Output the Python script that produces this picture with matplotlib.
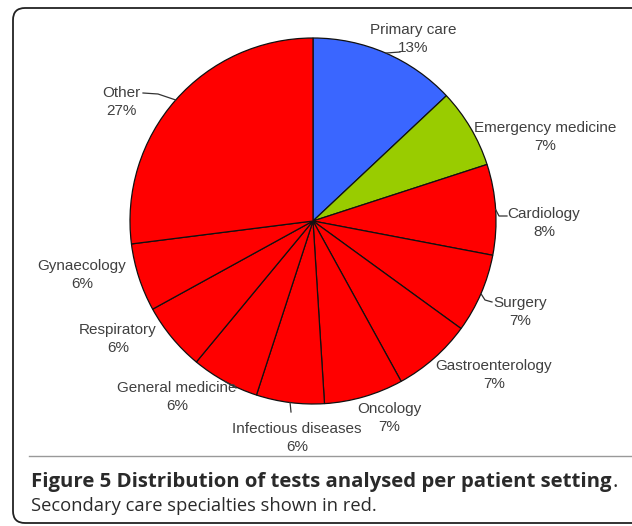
import numpy as np
import matplotlib
matplotlib.use("Agg")
import matplotlib.pyplot as plt
from matplotlib.patches import FancyBboxPatch

# ---- data ----
categories = ["Primary care", "Emergency medicine", "Cardiology", "Surgery",
              "Gastroenterology", "Oncology", "Infectious diseases",
              "General medicine", "Respiratory", "Gynaecology", "Other"]
values = [13, 7, 8, 7, 7, 7, 6, 6, 6, 6, 27]
colors = ["#3a66ff", "#99cc00"] + ["#ff0000"] * 9
caption_title = "Figure 5 Distribution of tests analysed per patient setting"
caption_text = "Secondary care specialties shown in red."

# ---- layout (pixel units, y from top) ----
W, H = 632, 526
CX, CY, R = 313, 221, 183
label_pos = {
    "Primary care": (413, 39),
    "Emergency medicine": (545, 137),
    "Cardiology": (544, 223),
    "Surgery": (520, 312),
    "Gastroenterology": (494, 375),
    "Oncology": (389, 418),
    "Infectious diseases": (297, 438),
    "General medicine": (177, 397),
    "Respiratory": (118, 339),
    "Gynaecology": (82, 275),
    "Other": (121, 102),
}
# leader path points after the rim point
leader_tail = {
    "Primary care": [(400, 52)],
    "Cardiology": [(499, 216), (507, 216)],
    "Surgery": [(485, 300), (492, 302)],
    "Infectious diseases": [(291, 412)],
    "General medicine": [(236, 388)],
    "Other": [(158, 94), (143, 93)],
}

fig = plt.figure(figsize=(W / 100, H / 100), dpi=100)
bg = fig.add_axes([0, 0, 1, 1])
bg.set_xlim(0, W)
bg.set_ylim(H, 0)
bg.axis("off")

box = FancyBboxPatch((13, 8), 640, 515, boxstyle="round,pad=0,rounding_size=12",
                     facecolor="white", edgecolor="#222222", linewidth=1.3)
bg.add_patch(box)
bg.plot([29, 632], [456, 456], color="#999999", linewidth=1.0)

t1 = bg.text(31, 482, caption_title, fontsize=14.7, fontweight="bold",
             family="Open Sans", color="#2a2a2a", va="center", ha="left")
bg.text(31, 506, caption_text, fontsize=13.2, family="Open Sans",
        color="#2a2a2a", va="center", ha="left")
renderer = fig.canvas.get_renderer()
ext = t1.get_window_extent(renderer=renderer)
xend = bg.transData.inverted().transform((ext.x1, ext.y0))[0]
bg.text(xend + 1, 482, ".", fontsize=14.7, family="Open Sans",
        color="#2a2a2a", va="center", ha="left")

ax = fig.add_axes([(CX - R) / W, (H - CY - R) / H, 2 * R / W, 2 * R / H])
ax.pie(values, colors=colors, startangle=90, counterclock=False, radius=1,
       wedgeprops=dict(edgecolor="#111111", linewidth=0.9))
ax.set_xlim(-1, 1)
ax.set_ylim(-1, 1)
ax.axis("off")

fracs = np.array(values, dtype=float) / sum(values)
cum = np.concatenate([[0], np.cumsum(fracs)])
mids = (cum[:-1] + cum[1:]) / 2 * 2 * np.pi

for name, val, th in zip(categories, values, mids):
    lx, ly = label_pos[name]
    ax.text(lx, ly, f"{name}\n{val}%", transform=bg.transData, ha="center",
            va="center", fontsize=11, family="Liberation Sans",
            color="#404040", linespacing=1.45)
    if name in leader_tail:
        rx = CX + R * np.sin(th)
        ry = CY - R * np.cos(th)
        pts = [(rx, ry)] + leader_tail[name]
        xs, ys = zip(*pts)
        ax.plot(xs, ys, color="#333333", linewidth=0.9, transform=bg.transData,
                clip_on=False)

fig.savefig("out.png", dpi=100)
